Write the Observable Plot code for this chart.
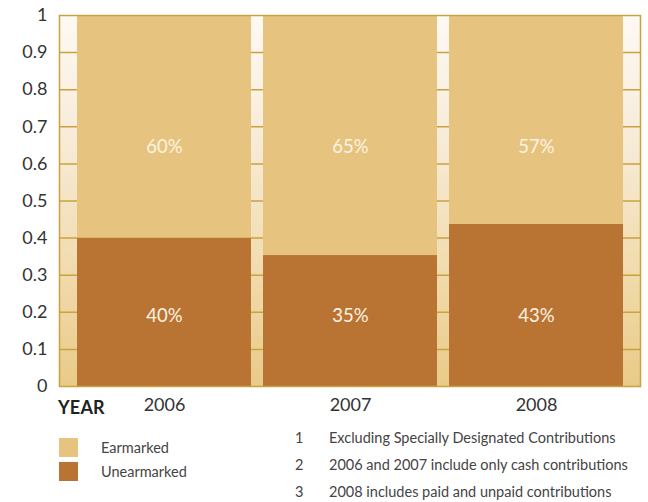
<!DOCTYPE html>
<html><head><meta charset="utf-8">
<script src="https://cdn.jsdelivr.net/npm/d3@7"></script>
<script src="https://cdn.jsdelivr.net/npm/@observablehq/plot@0.6"></script>
<style>
body{margin:0;background:#fff;font-family:Lato,"Open Sans",sans-serif;color:#333;}
#wrap{position:relative;width:648px;height:502px;overflow:hidden;}
#chart svg{display:block;}
#yearlab{position:absolute;left:58px;top:396px;font-weight:bold;font-size:18px;color:#222;letter-spacing:0.2px;}
.leg{position:absolute;left:59px;display:flex;align-items:center;font-size:14.5px;color:#444;}
.leg span.sw{display:inline-block;width:19px;height:19px;margin-right:23px;}
.fn{position:absolute;left:295px;font-size:14.5px;color:#444;white-space:nowrap;}
.fn span.n{display:inline-block;width:34px;}
</style></head><body>
<div id="wrap"><div id="chart"></div></div>
<script>
const years = ["2006", "2007", "2008"];
const seriesNames = ["Unearmarked", "Earmarked"];
const unearmarked = [0.40, 0.353, 0.437];
const earmarked = [0.60, 0.647, 0.563];
const unearmarkedLabels = ["40%", "35%", "43%"];
const earmarkedLabels = ["60%", "65%", "57%"];
const seriesColors = ["#b97434", "#e6c47f"];
const legendNames = ["Earmarked", "Unearmarked"];
const legendColors = ["#e6c47f", "#b97434"];
const labelLevels = [0.19, 0.645];
const footnoteNums = ["1", "2", "3"];
const footnotes = [
  "Excluding Specially Designated Contributions",
  "2006 and 2007 include only cash contributions",
  "2008 includes paid and unpaid contributions"
];
const gold = "#c9a23f";

const rows = [];
years.forEach((yr, i) => {
  rows.push({year: yr, series: "Unearmarked", value: unearmarked[i], label: unearmarkedLabels[i], level: labelLevels[0]});
  rows.push({year: yr, series: "Earmarked", value: earmarked[i], label: earmarkedLabels[i], level: labelLevels[1]});
});

const chart = Plot.plot({
  width: 648,
  height: 420,
  marginLeft: 59,
  marginRight: 8,
  marginTop: 15,
  marginBottom: 34,
  style: {fontFamily: "Lato, sans-serif", fontSize: "18px", color: "#333", background: "transparent", overflow: "visible"},
  x: {domain: years, paddingInner: 0.065, paddingOuter: 0.092, label: null, tickSize: 0, tickPadding: 12},
  y: {domain: [0, 1], ticks: 10, label: null, tickSize: 0, tickPadding: 12,
      tickFormat: d => String(+d.toFixed(1))},
  color: {domain: seriesNames, range: seriesColors},
  marks: [
    Plot.frame({fill: "#f3e2c0"}),
    Plot.ruleY(d3.range(1, 10).map(i => i / 10), {stroke: gold, strokeWidth: 1.5}),
    Plot.barY(rows, {x: "year", y: "value", fill: "series"}),
    Plot.text(rows, {x: "year", y: "level", text: "label", fill: "#fdf3e2", fontSize: 18.5}),
    Plot.frame({stroke: gold, strokeWidth: 1.5})
  ]
});
document.getElementById("chart").appendChild(chart);

// background gradient
const svg = d3.select(chart);
const defs = svg.insert("defs", ":first-child");
const grad = defs.append("linearGradient").attr("id", "bggrad")
  .attr("x1", 0).attr("y1", 0).attr("x2", 0).attr("y2", 1);
[[0, "#fdf9f3"], [0.3, "#f8eddb"], [0.65, "#f2ddb2"], [1, "#e9ca87"]].forEach(([o, c]) =>
  grad.append("stop").attr("offset", o).attr("stop-color", c));
const fr = chart.querySelector('[aria-label="frame"]');
const fRect = fr.tagName.toLowerCase() === "rect" ? fr : fr.querySelector("rect");
fRect.setAttribute("fill", "url(#bggrad)");

const wrap = document.getElementById("wrap");
const yl = document.createElement("div");
yl.id = "yearlab"; yl.textContent = "YEAR";
wrap.appendChild(yl);

legendNames.forEach((name, i) => {
  const d = document.createElement("div");
  d.className = "leg";
  d.style.top = (438 + i * 24) + "px";
  d.innerHTML = `<span class="sw" style="background:${legendColors[i]}"></span><span>${name}</span>`;
  wrap.appendChild(d);
});
footnotes.forEach((t, i) => {
  const d = document.createElement("div");
  d.className = "fn";
  d.style.top = (429 + i * 27) + "px";
  d.innerHTML = `<span class="n">${footnoteNums[i]}</span>${t}`;
  wrap.appendChild(d);
});
</script>
</body></html>
